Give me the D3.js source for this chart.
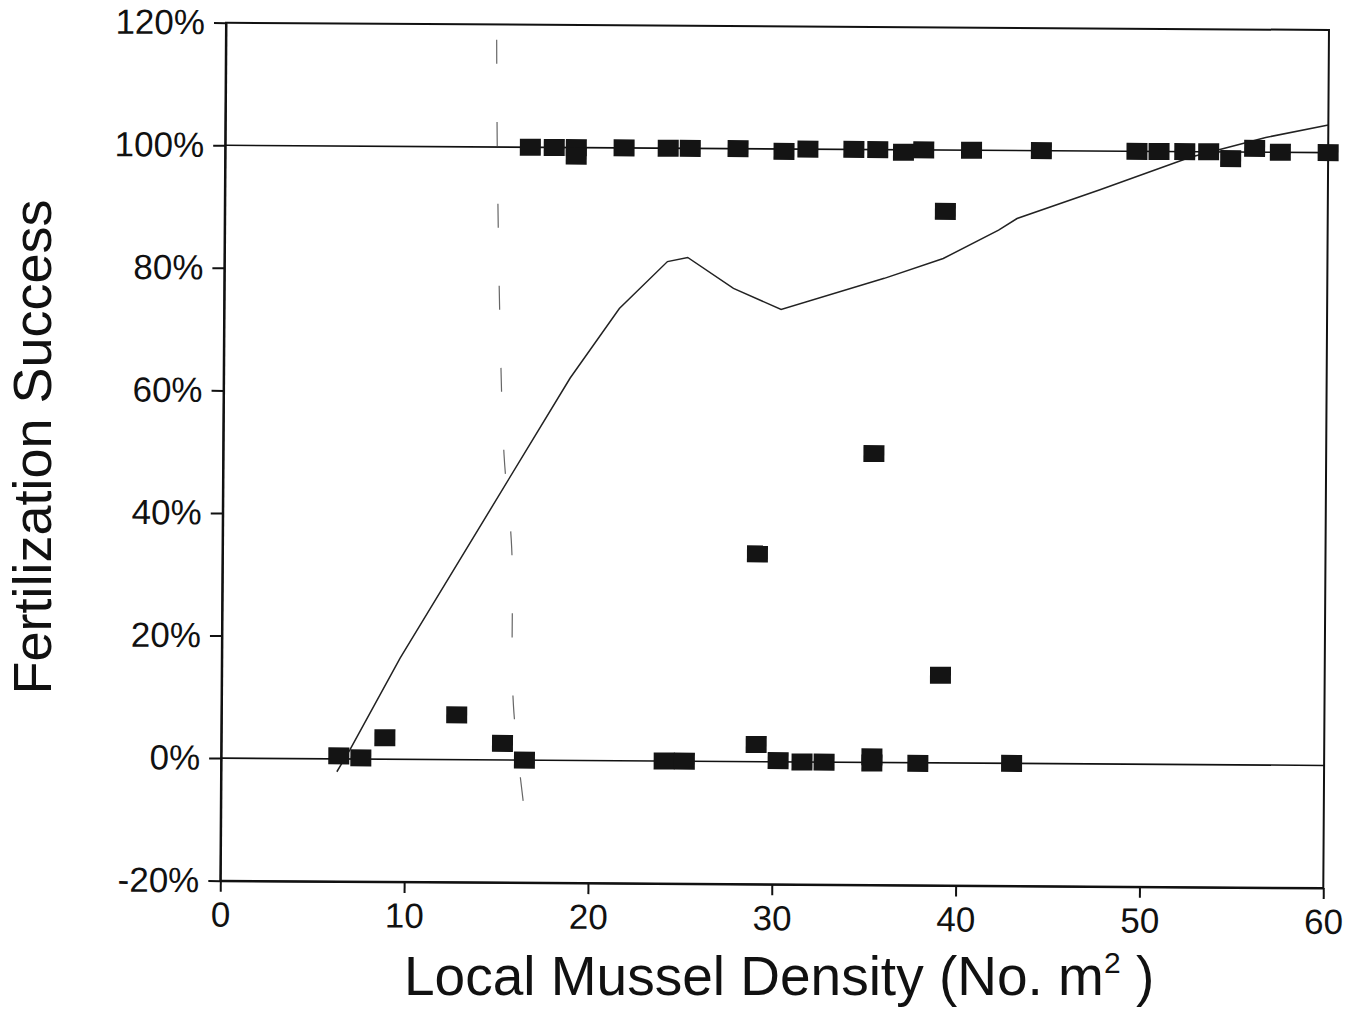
<!DOCTYPE html>
<html>
<head>
<meta charset="utf-8">
<script src="https://cdn.jsdelivr.net/npm/d3@7"></script>
<style>
  body { margin: 0; background: #fff; }
  text { font-family: "Liberation Sans", Arial, Helvetica, sans-serif; fill: #111; }
  .axis path, .axis line { stroke: #111; stroke-width: 2; }
  .axis text { font-size: 35px; fill: #111; font-family: "Liberation Sans", Arial, sans-serif; }
</style>
</head>
<body>
<svg id="chart" width="1356" height="1025"></svg>
<script>

      // observed points (density, % fertilized)
      var density = [16.6, 17.9, 19.1, 19.1, 21.7, 24.1, 25.3, 27.9, 30.4, 31.7, 34.2, 35.5, 36.9, 38.0, 40.6,
                     39.2, 44.4, 49.6, 50.8, 52.2, 53.5, 54.7, 56.0, 57.4, 60.0,
                     35.4, 29.1, 39.1,
                     6.4, 7.6, 8.9, 12.8, 15.3, 16.5, 24.1, 25.2, 29.1, 30.3, 31.6, 32.8, 35.4, 35.4, 37.9, 43.0];
      var success = [100, 100, 100, 98.6, 100, 100, 100, 100, 99.6, 100, 100, 100, 99.6, 100, 100,
                     90, 100, 100, 100, 100, 100, 98.9, 100.6, 100, 100,
                     50.4, 33.9, 14.3,
                     0.5, 0.2, 3.5, 7.3, 2.7, 0, 0, 0, 2.8, 0.2, 0, 0, 0.9, -0.1, -0.1, 0];

      // fitted curve
      var fitX = [6.3, 7.0, 9.7, 18.85, 21.5, 24.1, 25.2, 27.7, 30.3, 35.9, 39.1, 42.1, 43.1, 47.6, 52.5, 56.6, 60];
      var fitY = [-2.1, 1.5, 16.5, 62.4, 73.8, 81.5, 82.2, 77.2, 73.8, 79, 82.3, 87, 88.9, 93.7, 99.1, 102.4, 104.5];

      // faint dashed vertical mark
      var markX = [14.73, 14.8, 15.02, 15.28, 15.73, 15.88, 16.73];
      var markY = [117.5, 100, 70.2, 49.8, 34.6, 9, -13];

      var xTicks = [0, 10, 20, 30, 40, 50, 60];
      var yTicks = [-20, 0, 20, 40, 60, 80, 100, 120];
      var refLevels = [0, 100];

      var width = 1103,
          height = 858;

      var svg = d3.select("#chart");

      // the scan is a little tilted, so the plot is too
      var canvas = svg.append("g")
          .attr("transform", "translate(226,22.7) rotate(0.38)");

      var xScale = d3.scaleLinear().domain([0, 60]).range([0, width]);
      var yScale = d3.scaleLinear().domain([-20, 120]).range([height, 0]);

      // frame
      canvas.append("rect")
          .attr("width", width)
          .attr("height", height)
          .attr("fill", "none")
          .attr("stroke", "#111")
          .attr("stroke-width", 2);

      // lines at 0% and 100%
      canvas.selectAll(".ref")
          .data(refLevels)
          .enter()
          .append("line")
          .attr("class", "ref")
          .attr("x1", 0)
          .attr("x2", width)
          .attr("y1", function(d) { return yScale(d); })
          .attr("y2", function(d) { return yScale(d); })
          .attr("stroke", "#111")
          .attr("stroke-width", 1.6);

      var xAxis = d3.axisBottom(xScale)
          .tickValues(xTicks)
          .tickSize(11)
          .tickSizeOuter(0)
          .tickPadding(10);

      var yAxis = d3.axisLeft(yScale)
          .tickValues(yTicks)
          .tickSize(12)
          .tickSizeOuter(0)
          .tickPadding(9)
          .tickFormat(function(d) { return d + "%"; });

      canvas.append("g")
          .attr("class", "x axis")
          .attr("transform", "translate(0," + height + ")")
          .call(xAxis);

      canvas.append("g")
          .attr("class", "y axis")
          .call(yAxis);

      // dashed mark
      var markLine = d3.line()
          .x(function(d, i) { return xScale(markX[i]); })
          .y(function(d, i) { return yScale(markY[i]); })
          .curve(d3.curveCatmullRom);

      canvas.append("path")
          .attr("d", markLine(markX))
          .attr("fill", "none")
          .attr("stroke", "#666")
          .attr("stroke-width", 1.2)
          .attr("stroke-dasharray", "24,58");

      // fitted curve
      var fitLine = d3.line()
          .x(function(d, i) { return xScale(fitX[i]); })
          .y(function(d, i) { return yScale(fitY[i]); });

      canvas.append("path")
          .attr("d", fitLine(fitX))
          .attr("fill", "none")
          .attr("stroke", "#222")
          .attr("stroke-width", 1.5);

      // square markers
      var sqW = 21, sqH = 17;
      canvas.append("g")
          .attr("id", "points")
          .selectAll("rect")
          .data(density)
          .enter()
          .append("rect")
          .attr("x", function(d) { return xScale(d) - sqW / 2; })
          .attr("y", function(d, i) { return yScale(success[i]) - sqH / 2; })
          .attr("width", sqW)
          .attr("height", sqH)
          .attr("fill", "#141414");

      // axis titles
      svg.append("text")
          .attr("transform", "translate(51,447) rotate(-90)")
          .attr("text-anchor", "middle")
          .style("font-size", "54px")
          .text("Fertilization Success");

      var xTitle = svg.append("text")
          .attr("x", 404)
          .attr("y", 995)
          .style("font-size", "55px");
      xTitle.append("tspan").text("Local Mussel Density (No. m");
      xTitle.append("tspan").attr("dy", -22).style("font-size", "30px").text("2");
      xTitle.append("tspan").attr("dy", 22).text("\u00a0)");

</script>
</body>
</html>
